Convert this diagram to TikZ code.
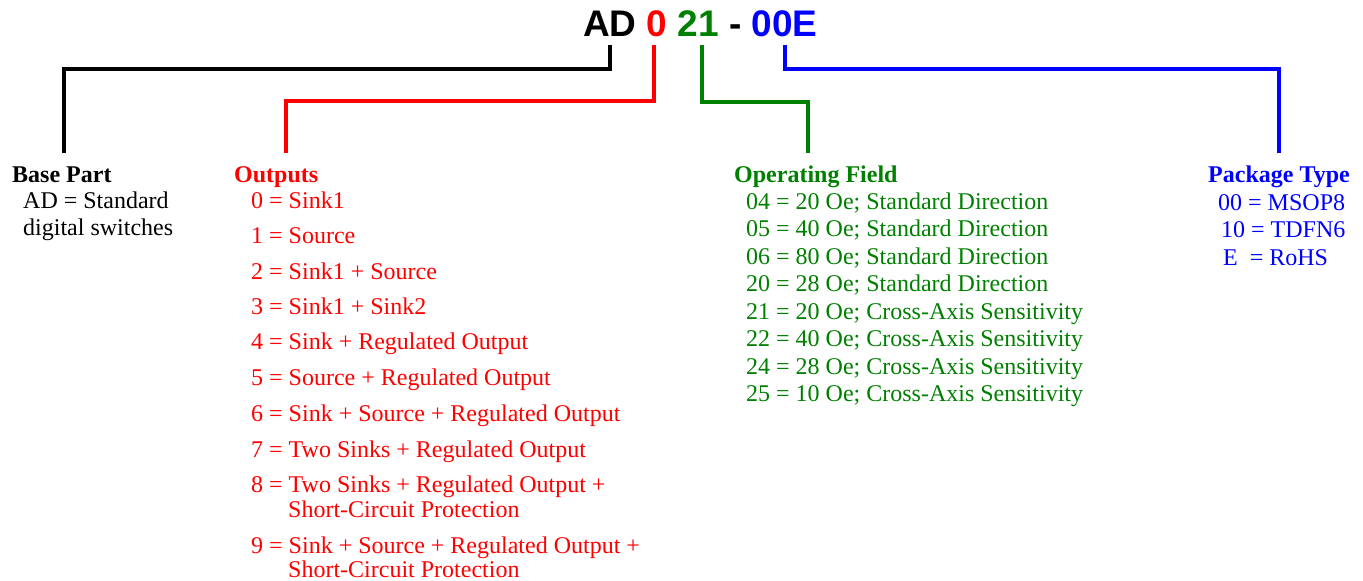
\documentclass[tikz,border=0pt]{standalone}
\usepackage{fontspec}
\setmainfont{Liberation Serif}
\newfontfamily\titlefont{Liberation Sans}
\definecolor{cred}{RGB}{255,0,0}
\definecolor{cgreen}{RGB}{0,128,0}
\definecolor{cblue}{RGB}{0,0,255}
\begin{document}
\begin{tikzpicture}[x=1pt,y=-1pt,
  ttl/.style={anchor=base west,inner sep=0pt,font=\titlefont\fontsize{37}{40}\selectfont\bfseries},
  hdr/.style={anchor=base west,inner sep=0pt,font=\fontsize{24}{28}\selectfont\bfseries},
  itm/.style={anchor=base west,inner sep=0pt,font=\fontsize{24}{28}\selectfont},
  conn/.style={line width=4.5pt,line join=miter,line cap=butt}]
\useasboundingbox (0,0) rectangle (1363,581);
% title
\node[ttl,text=black]  (tAD)  at (583,36) {AD};
\node[ttl,text=cred]   (t0)   at (646.5,36) {0};
\node[ttl,text=cgreen] (t21)  at (677.5,36) {21};
\node[ttl,text=black]  (tdash) at (729,36) {-};
\node[ttl,text=cblue]  (t00E) at (751.5,36) {00E};
% connector ends
\coordinate (sAD) at (610,45);
\coordinate (s0) at (654,45);
\coordinate (s21) at (702,45);
\coordinate (s00E) at (785,45);
\coordinate (eBase) at (64,153);
\coordinate (eOut) at (286,153);
\coordinate (eOp) at (808,153);
\coordinate (ePkg) at (1279,153);
\draw[conn,black]  (sAD) -- ++(0,24) -| (eBase);
\draw[conn,cred]   (s0) -- ++(0,56) -| (eOut);
\draw[conn,cgreen] (s21) -- ++(0,57) -| (eOp);
\draw[conn,cblue]  (s00E) -- ++(0,24) -| (ePkg);
% Base part
\node[hdr,text=black] (hBase) at (12,182) {Base Part};
\node[itm,text=black] (b1) at (23,208.5) {AD = Standard};
\node[itm,text=black] (b2) at (23,235.5) {digital switches};
% Outputs
\node[hdr,text=cred] (hOut) at (234,182.5) {Outputs};
\node[itm,text=cred] (o0) at (251,208) {0 = Sink1};
\node[itm,text=cred] (o1) at (251,243.5) {1 = Source};
\node[itm,text=cred] (o2) at (251,279) {2 = Sink1 + Source};
\node[itm,text=cred] (o3) at (251,314) {3 = Sink1 + Sink2};
\node[itm,text=cred] (o4) at (251,349.5) {4 = Sink + Regulated Output};
\node[itm,text=cred] (o5) at (251,385.5) {5 = Source + Regulated Output};
\node[itm,text=cred] (o6) at (251,421) {6 = Sink + Source + Regulated Output};
\node[itm,text=cred] (o7) at (251,457) {7 = Two Sinks + Regulated Output};
\node[itm,text=cred] (o8) at (251,492) {8 = Two Sinks + Regulated Output +};
\node[itm,text=cred] (o8b) at (288,517) {Short-Circuit Protection};
\node[itm,text=cred] (o9) at (251,553) {9 = Sink + Source + Regulated Output +};
\node[itm,text=cred] (o9b) at (288,577) {Short-Circuit Protection};
% Operating field
\node[hdr,text=cgreen] (hOp) at (734,182.5) {Operating Field};
\node[itm,text=cgreen] (f1) at (746,209.3) {04 = 20 Oe; Standard Direction};
\node[itm,text=cgreen] (f2) at (746,236.8) {05 = 40 Oe; Standard Direction};
\node[itm,text=cgreen] (f3) at (746,264.3) {06 = 80 Oe; Standard Direction};
\node[itm,text=cgreen] (f4) at (746,291.8) {20 = 28 Oe; Standard Direction};
\node[itm,text=cgreen] (f5) at (746,319.3) {21 = 20 Oe; Cross-Axis Sensitivity};
\node[itm,text=cgreen] (f6) at (746,346.8) {22 = 40 Oe; Cross-Axis Sensitivity};
\node[itm,text=cgreen] (f7) at (746,374.3) {24 = 28 Oe; Cross-Axis Sensitivity};
\node[itm,text=cgreen] (f8) at (746,401.8) {25 = 10 Oe; Cross-Axis Sensitivity};
% Package type
\node[hdr,text=cblue] (hPkg) at (1208,182.3) {Package Type};
\node[itm,text=cblue] (p1) at (1218,210) {00 = MSOP8};
\node[itm,text=cblue] (p2) at (1221,237.7) {10 = TDFN6};
\node[itm,text=cblue] (p3) at (1223,265) {E \ = RoHS};
\end{tikzpicture}
\end{document}
